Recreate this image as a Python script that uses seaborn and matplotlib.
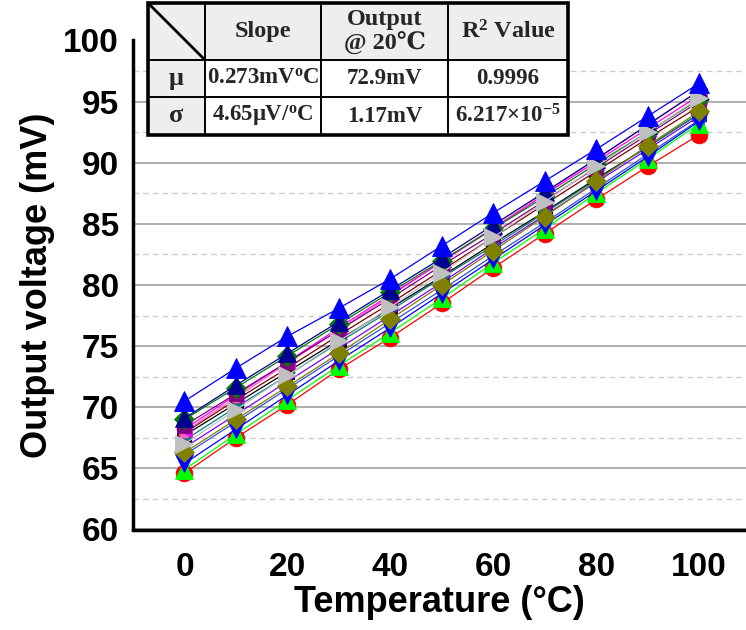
import matplotlib
matplotlib.use("Agg")
import matplotlib.pyplot as plt
import seaborn as sns
import pandas as pd
from matplotlib.ticker import MultipleLocator
from matplotlib.patches import Rectangle

# ---------------------------------------------------------------- data
temperature = [0, 10, 20, 30, 40, 50, 60, 70, 80, 90, 100]

chip_black = [67.7, 70.3, 72.9, 75.5, 78.1, 80.7, 83.4, 86.0, 88.7, 91.3, 94.0]
chip_red = [64.6, 67.5, 70.2, 73.1, 75.7, 78.5, 81.4, 84.2, 87.0, 89.7, 92.3]
chip_lime = [64.9, 67.8, 70.6, 73.4, 76.1, 78.9, 81.8, 84.6, 87.5, 90.3, 93.2]
chip_blue_dn = [65.4, 68.2, 71.0, 73.8, 76.5, 79.3, 82.1, 84.9, 87.7, 90.5, 93.4]
chip_magenta = [68.2, 71.0, 73.7, 76.5, 79.2, 81.9, 84.6, 87.4, 90.1, 92.8, 95.5]
chip_wine = [67.9, 70.6, 73.2, 75.9, 78.5, 81.2, 83.9, 86.6, 89.3, 92.0, 94.6]
chip_cyan = [67.3, 70.0, 72.6, 75.3, 77.9, 80.6, 83.2, 85.9, 88.6, 91.3, 94.0]
chip_royal = [66.1, 68.8, 71.5, 74.2, 76.9, 79.6, 82.4, 85.1, 87.9, 90.7, 93.5]
chip_violet = [66.7, 69.4, 72.1, 74.8, 77.5, 80.2, 83.0, 85.7, 88.4, 91.1, 93.8]
chip_pink = [68.0, 70.8, 73.6, 76.3, 79.1, 81.9, 84.7, 87.5, 90.3, 93.1, 95.9]
chip_purple = [68.5, 71.1, 73.7, 76.3, 78.9, 81.6, 84.2, 86.9, 89.6, 92.3, 95.0]
chip_dkgreen = [69.0, 71.6, 74.2, 76.8, 79.4, 82.0, 84.6, 87.2, 89.9, 92.5, 95.2]
chip_navy = [69.1, 71.8, 74.4, 77.0, 79.6, 82.2, 84.9, 87.6, 90.3, 93.1, 95.9]
chip_gray = [67.0, 69.8, 72.6, 75.4, 78.2, 81.0, 83.9, 86.8, 89.7, 92.5, 95.3]
chip_olive = [66.3, 69.0, 71.7, 74.4, 77.2, 80.0, 82.8, 85.6, 88.5, 91.4, 94.2]
chip_blue_up = [70.5, 73.2, 75.8, 78.1, 80.5, 83.2, 85.9, 88.5, 91.1, 93.8, 96.5]

# summary table text
col_headers = ["Slope", "Output\n@ 20\u2103", "R$^{2}$ Value"]
row_headers = ["\u03bc", "\u03c3"]
mu_row = ["0.273mV$^{\\mathrm{o}}$C", "72.9mV", "0.9996"]
sigma_row = ["4.65\u03bcV/$^{\\mathrm{o}}$C", "1.17mV", "6.217\u00d710$^{-5}$"]

# (values, colour, marker, marker size) in drawing order
series = [
    (chip_black, "#000000", "s", 9.5),
    (chip_wine, "#800000", "h", 10),
    (chip_cyan, "#008080", "*", 12),
    (chip_royal, "#3050E0", "p", 10),
    (chip_violet, "#8000FF", "d", 10),
    (chip_pink, "#FF60C0", "H", 9),
    (chip_magenta, "#FF00FF", "<", 11),
    (chip_purple, "#800080", "s", 9.5),
    (chip_red, "#FF0000", "o", 12),
    (chip_lime, "#00FF00", "^", 12.5),
    (chip_blue_dn, "#0000FF", "v", 12.5),
    (chip_dkgreen, "#008000", "D", 10),
    (chip_navy, "#000090", "^", 12.5),
    (chip_olive, "#808000", "D", 10),
    (chip_gray, "#C0C0C0", ">", 13.5),
    (chip_blue_up, "#0000FF", "^", 14),
]

# ---------------------------------------------------------------- style
sns.set_theme(style="white")
plt.rcParams["font.family"] = ["Liberation Sans", "DejaVu Sans"]
plt.rcParams["font.weight"] = "bold"
plt.rcParams["axes.labelcolor"] = "black"
plt.rcParams["mathtext.fontset"] = "custom"
plt.rcParams["mathtext.rm"] = "Liberation Serif:bold"
plt.rcParams["mathtext.bf"] = "Liberation Serif:bold"
plt.rcParams["mathtext.it"] = "Liberation Serif:bold:italic"

W, H = 746, 630
fig = plt.figure(figsize=(W / 100, H / 100), dpi=100)
fig.patch.set_facecolor("white")

x0_px, x100_px = 183.0, 699.0
px_per_deg = (x100_px - x0_px) / 100.0
left_px, bottom_px, top_px = 133.0, 529.5, 40.5
ax = fig.add_axes([left_px / W, 1 - bottom_px / H, (W - left_px) / W,
                   (bottom_px - top_px) / H])
ax.set_facecolor("white")

for vals, color, marker, ms in series:
    df = pd.DataFrame({"T": temperature, "V": vals})
    sns.lineplot(data=df, x="T", y="V", ax=ax, color=color, marker=marker,
                 markersize=ms, markeredgecolor=color, markeredgewidth=0.6,
                 linewidth=0.9, legend=False, sort=False, zorder=3)

ax.set_xlim(-10, (W - x0_px) / px_per_deg)
ax.set_ylim(60, 100)

ax.xaxis.set_major_locator(MultipleLocator(20))
ax.xaxis.set_minor_locator(MultipleLocator(10))
ax.yaxis.set_major_locator(MultipleLocator(5))
ax.yaxis.set_minor_locator(MultipleLocator(2.5))

ax.yaxis.grid(True, which="major", color="#a8a8a8", linewidth=1.3, linestyle="-")
ax.yaxis.grid(True, which="minor", color="#cccccc", linewidth=1.0,
              linestyle=(0, (4, 3)))
ax.xaxis.grid(False, which="both")
ax.set_axisbelow(True)

for side in ["top", "right"]:
    ax.spines[side].set_visible(False)
for side in ["left", "bottom"]:
    ax.spines[side].set_color("black")
    ax.spines[side].set_linewidth(2.5)

ax.tick_params(axis="both", which="major", direction="out", length=9, width=2,
               color="black", labelsize=24, labelcolor="black")
ax.tick_params(axis="both", which="minor", direction="out", length=5, width=2,
               color="black")
ax.tick_params(axis="y", which="major", pad=1)
ax.tick_params(axis="x", which="major", pad=7)
for lab in ax.get_xticklabels() + ax.get_yticklabels():
    lab.set_fontweight("bold")

ax.set_xlabel("Temperature (\u00b0C)", fontsize=26, fontweight="bold",
              color="black", labelpad=2)
ax.set_ylabel("Output voltage (mV)", fontsize=26, fontweight="bold",
              color="black", labelpad=6)

# ---------------------------------------------------------------- summary table
tl, tr, tt, tb = 148.0, 568.0, 3.0, 135.0
tax = fig.add_axes([tl / W, 1 - tb / H, (tr - tl) / W, (tb - tt) / H])
tw, th = tr - tl, tb - tt
tax.set_xlim(0, tw)
tax.set_ylim(th, 0)
tax.axis("off")

col_edges = [0, 57, 173, 300, tw]
row_edges = [0, 57, 94, th]
shade = "#eeeeee"

for r in range(3):
    for c in range(4):
        fc = shade if (r == 0 or c == 0) else "white"
        tax.add_patch(Rectangle((col_edges[c], row_edges[r]),
                                col_edges[c + 1] - col_edges[c],
                                row_edges[r + 1] - row_edges[r],
                                facecolor=fc, edgecolor="none", zorder=1))

for x in col_edges[1:-1]:
    tax.plot([x, x], [0, th], color="black", lw=1.4, zorder=2)
for y in row_edges[1:-1]:
    tax.plot([0, tw], [y, y], color="black", lw=1.4, zorder=2)
tax.add_patch(Rectangle((0, 0), tw, th, facecolor="none", edgecolor="black",
                        lw=2.6, zorder=3, clip_on=False))
tax.plot([0, col_edges[1]], [0, row_edges[1]], color="black", lw=2.0, zorder=2)

serif = ["Liberation Serif", "DejaVu Serif"]
fs = 16.5


def cell_text(r, c, s, size=fs, **kw):
    xc = (col_edges[c] + col_edges[c + 1]) / 2
    yc = (row_edges[r] + row_edges[r + 1]) / 2
    tax.text(xc, yc, s, ha="center", va="center", fontsize=size,
             fontweight="bold", family=serif, zorder=4, **kw)


for c, s in enumerate(col_headers):
    cell_text(0, c + 1, s, size=17.5, linespacing=1.0)
for r, s in enumerate(row_headers):
    cell_text(r + 1, 0, s, size=19)
for c, s in enumerate(mu_row):
    cell_text(1, c + 1, s)
for c, s in enumerate(sigma_row):
    cell_text(2, c + 1, s)

fig.savefig("out.png", dpi=100, facecolor="white")
